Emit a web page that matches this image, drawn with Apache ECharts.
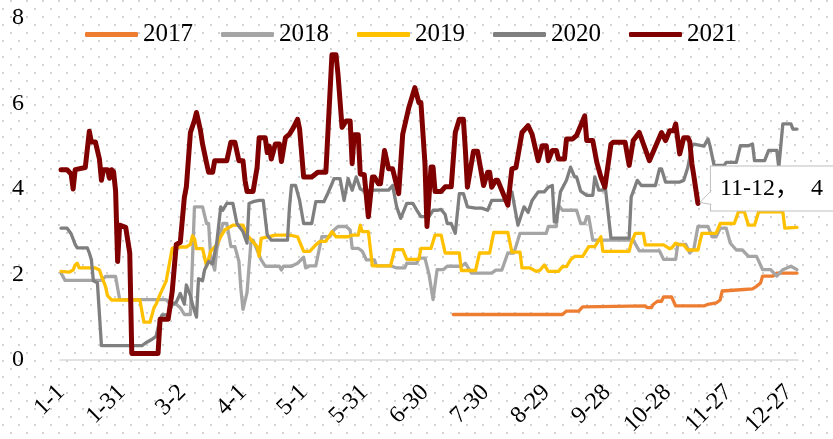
<!DOCTYPE html>
<html>
<head>
<meta charset="utf-8">
<script src="https://cdn.jsdelivr.net/npm/echarts@6/dist/echarts.min.js"></script>
<style>
html,body{margin:0;padding:0;background:#fff;}
#chart{width:833px;height:439px;}
</style>
</head>
<body>
<div id="chart"></div>
<script>
// Categories: every day of a non-leap year, "M-D"
const monthDays = [31,28,31,30,31,30,31,31,30,31,30,31];
const categories = [];
for (let m = 0; m < 12; m++) for (let d = 1; d <= monthDays[m]; d++) categories.push((m + 1) + '-' + d);

const seriesNames = ['2017','2018','2019','2020','2021'];
const yTicks = [0, 2, 4, 6, 8];

// Values as [day-of-year index, value]
const s2017 = [[194,1.06],[248,1.06],[250,1.14],[256,1.14],[258,1.24],[289,1.26],[290,1.22],[292,1.22],[293,1.3],[295,1.37],[297,1.37],[298,1.47],[302,1.47],[304,1.26],[318,1.26],[320,1.3],[324,1.33],[326,1.4],[327,1.61],[336,1.64],[342,1.66],[344,1.72],[346,1.8],[347,1.96],[352,1.96],[354,2.03],[364,2.03]];

const s2018 = [[0,2.03],[2,1.86],[20,1.86],[22,1.95],[27,1.95],[29,1.41],[52,1.41],[54,1.3],[57,1.3],[59,1.22],[61,1.06],[64,1.06],[66,3.58],[70,3.58],[72,3.19],[73,3.19],[74,2.42],[76,2.1],[77,2.57],[80,3.19],[82,3.19],[84,2.65],[86,2.65],[88,2.3],[89,1.64],[90,1.18],[92,1.57],[94,2.8],[95,2.8],[99,2.34],[101,2.19],[108,2.19],[109,2.1],[110,2.19],[114,2.19],[117,2.26],[120,2.4],[121,2.15],[123,2.2],[126,2.2],[129,2.88],[133,2.88],[135,3.04],[137,3.12],[141,3.12],[143,3.04],[144,2.61],[147,2.61],[149,2.54],[151,2.34],[155,2.34],[156,2.2],[163,2.2],[166,2.15],[170,2.15],[171,2.26],[176,2.26],[177,2.38],[180,2.38],[182,2.0],[184,1.41],[186,2.11],[189,2.11],[191,2.19],[198,2.19],[200,2.26],[203,2.03],[213,2.03],[215,2.1],[218,2.1],[221,2.5],[224,2.5],[227,2.96],[240,2.96],[241,3.12],[245,3.12],[246,3.62],[248,3.5],[255,3.5],[257,3.19],[259,3.19],[260,3.35],[261,3.35],[263,2.8],[283,2.8],[286,2.55],[296,2.55],[298,2.35],[304,2.35],[305,2.7],[309,2.7],[311,2.5],[313,2.6],[315,3.12],[320,3.12],[322,2.88],[324,2.88],[326,3.08],[329,3.08],[331,2.73],[334,2.57],[337,2.57],[340,2.42],[344,2.42],[347,2.11],[351,2.11],[354,1.96],[357,2.11],[361,2.19],[364,2.11]];

const s2019 = [[0,2.07],[4,2.05],[6,2.1],[7,2.22],[8,2.26],[9,2.15],[17,2.15],[19,2.1],[20,1.96],[22,1.72],[23,1.5],[25,1.4],[39,1.4],[41,0.88],[44,0.88],[46,1.22],[47,1.3],[49,1.53],[52,1.84],[55,2.61],[57,2.64],[62,2.64],[64,2.7],[65,2.9],[66,2.84],[67,2.6],[70,2.6],[72,2.19],[74,2.54],[77,2.69],[79,2.88],[81,3.04],[85,3.15],[90,3.15],[92,2.92],[97,2.65],[98,2.42],[99,2.84],[106,2.92],[113,2.92],[117,2.88],[120,2.54],[123,2.54],[126,2.69],[128,2.77],[131,2.77],[134,3.0],[136,2.88],[142,2.88],[144,2.92],[147,2.92],[148,3.15],[149,3.0],[152,3.0],[154,2.2],[163,2.2],[165,2.58],[169,2.58],[171,2.35],[177,2.35],[178,2.61],[183,2.61],[185,2.92],[188,2.92],[190,2.5],[197,2.5],[198,2.09],[205,2.09],[207,2.5],[212,2.5],[214,2.98],[221,2.98],[223,2.52],[227,2.52],[228,2.15],[232,2.15],[235,2.07],[237,2.1],[239,2.22],[241,2.07],[246,2.07],[248,2.18],[250,2.18],[252,2.34],[254,2.42],[258,2.42],[261,2.65],[264,2.65],[266,2.8],[267,2.88],[268,2.54],[281,2.54],[282,2.73],[284,2.96],[288,2.96],[289,2.69],[298,2.69],[301,2.6],[302,2.62],[304,2.73],[306,2.69],[308,2.69],[310,2.57],[315,2.57],[317,2.96],[324,2.96],[326,3.19],[333,3.19],[335,3.46],[338,3.46],[340,3.15],[343,3.15],[345,3.46],[357,3.46],[358,3.08],[364,3.1]];

const s2020 = [[0,3.08],[3,3.08],[5,2.95],[7,2.7],[8,2.62],[13,2.62],[14,2.5],[15,2.35],[16,1.85],[18,1.8],[20,0.33],[40,0.33],[42,0.4],[45,0.48],[47,0.55],[49,0.95],[50,1.05],[53,1.05],[55,1.3],[57,1.35],[59,1.55],[61,1.3],[62,1.75],[64,1.5],[65,1.3],[67,1.0],[68,1.9],[70,1.85],[71,2.1],[73,2.3],[75,2.25],[77,2.73],[79,3.58],[80,3.5],[82,3.66],[85,3.66],[87,3.19],[90,3.0],[92,2.73],[93,3.66],[95,3.7],[98,3.73],[100,3.73],[102,2.92],[104,2.8],[112,2.8],[113,3.58],[114,4.08],[116,4.08],[118,3.73],[120,3.19],[124,3.19],[126,3.7],[130,3.7],[132,3.9],[134,4.12],[135,4.24],[138,4.24],[140,3.73],[142,4.24],[144,3.97],[146,4.28],[148,4.0],[150,3.95],[155,3.97],[162,3.97],[164,4.08],[166,3.58],[168,3.31],[171,3.66],[174,3.66],[176,3.5],[178,3.35],[182,3.35],[184,3.5],[186,3.5],[188,3.52],[190,3.4],[191,3.19],[193,3.19],[195,2.96],[197,3.89],[199,3.89],[201,3.58],[205,3.55],[208,3.55],[211,3.5],[213,3.73],[217,3.73],[220,3.73],[223,3.93],[226,3.15],[229,3.58],[231,3.45],[233,3.73],[236,3.93],[239,3.93],[241,4.04],[243,4.08],[244,3.23],[245,3.23],[247,3.93],[250,4.2],[252,4.51],[254,4.28],[255,4.28],[257,3.95],[260,3.85],[263,3.85],[264,4.28],[266,3.97],[268,3.97],[269,4.12],[272,2.85],[281,2.85],[282,3.81],[285,4.2],[287,4.08],[294,4.08],[296,4.47],[297,4.47],[299,4.16],[306,4.16],[308,4.2],[310,4.5],[312,5.0],[313,5.05],[318,5.0],[320,5.17],[321,5.0],[323,4.55],[328,4.55],[329,4.62],[334,4.62],[336,5.01],[340,5.01],[342,5.05],[343,4.66],[348,4.66],[350,4.9],[354,4.9],[355,4.5],[357,5.52],[361,5.52],[362,5.4],[364,5.4]];

const s2021 = [[0,4.45],[3,4.45],[5,4.35],[6,4.0],[7,4.45],[12,4.5],[14,5.35],[15,5.1],[17,5.1],[19,4.7],[20,4.2],[21,4.45],[23,4.45],[24,4.25],[25,4.45],[26,4.4],[27,3.95],[28,2.3],[29,3.15],[32,3.1],[34,2.5],[35,0.15],[48,0.15],[49,0.95],[53,0.95],[55,1.6],[57,2.7],[59,2.75],[61,3.8],[62,4.05],[64,5.32],[66,5.6],[67,5.79],[69,5.36],[70,5.05],[72,4.6],[73,4.39],[75,4.39],[76,4.66],[82,4.66],[84,5.09],[86,5.09],[88,4.66],[90,4.66],[91,4.2],[92,3.94],[95,3.94],[97,4.51],[98,5.2],[101,5.2],[102,4.85],[103,5.0],[104,4.7],[106,5.05],[108,5.05],[109,4.64],[111,5.2],[113,5.28],[115,5.44],[117,5.63],[118,5.4],[120,4.28],[124,4.28],[127,4.39],[131,4.39],[134,7.14],[136,7.14],[137,6.68],[139,5.44],[141,5.59],[143,5.59],[144,4.59],[145,5.27],[147,5.27],[148,4.35],[150,4.33],[152,3.35],[154,4.28],[155,4.28],[157,4.12],[158,4.12],[160,4.9],[162,4.47],[164,4.47],[167,3.89],[169,5.28],[172,5.9],[175,6.37],[177,6.02],[178,6.02],[180,4.59],[181,3.12],[183,4.51],[184,4.51],[185,3.94],[188,3.94],[190,4.05],[193,4.05],[195,5.32],[197,5.63],[199,5.63],[200,4.9],[201,4.04],[204,4.88],[206,4.88],[209,4.08],[211,4.39],[212,4.39],[213,4.04],[215,4.2],[216,4.2],[218,3.97],[221,3.62],[223,4.47],[225,4.5],[228,5.32],[231,5.48],[233,5.28],[236,4.66],[238,5.01],[240,5.01],[241,4.66],[243,4.9],[245,4.9],[246,4.7],[249,4.7],[250,5.17],[253,5.17],[255,5.25],[259,5.71],[260,5.13],[263,5.13],[265,4.62],[267,4.28],[269,4.04],[272,5.05],[273,5.09],[279,5.09],[281,4.55],[283,5.13],[286,5.32],[291,4.66],[297,5.32],[299,5.13],[301,5.36],[303,5.36],[304,5.52],[306,4.82],[308,5.2],[310,5.2],[311,5.1],[312,4.6],[313,4.3],[315,3.66]];

const colors = ['#ED7D31','#A5A5A5','#FFC000','#7F7F7F','#800000'];
const widths = [3.3, 3.3, 3.3, 3.3, 5];
const allData = [s2017, s2018, s2019, s2020, s2021];

// dotted background pattern
(function(){
  const c = document.createElement('canvas');
  c.width = 16; c.height = 16;
  const g = c.getContext('2d');
  g.fillStyle = '#fff'; g.fillRect(0,0,16,16);
  g.fillStyle = '#d2d2d2';
  g.fillRect(10,0,2,2);
  g.fillRect(2,8,2,2);
  document.getElementById('chart').style.backgroundImage = 'url(' + c.toDataURL() + ')';
})();

const FONT = "'Liberation Serif','Times New Roman','Noto Sans CJK SC',serif";
const LABEL_DIST = 13;

const chart = echarts.init(document.getElementById('chart'), null, {renderer: 'canvas'});
const series = seriesNames.map((name, i) => {
  const s = {
    name: name,
    type: 'line',
    data: allData[i],
    symbol: 'none',
    showSymbol: false,
    smooth: false,
    lineStyle: {width: widths[i], color: colors[i], cap: 'round', join: 'round'},
    itemStyle: {color: colors[i]},
    emphasis: {disabled: true},
    animation: false
  };
  if (name === '2021') {
    s.endLabel = {
      show: true,
      formatter: p => categories[p.value[0]] + '，  ' + Math.round(p.value[1]),
      fontFamily: FONT,
      fontSize: 24,
      lineHeight: 24,
      color: '#000',
      backgroundColor: '#fff',
      borderColor: '#bfbfbf',
      borderWidth: 1,
      padding: [10, 10, 10, 9],
      distance: LABEL_DIST,
      offset: [0, -15]
    };
  }
  return s;
});

chart.setOption({
  backgroundColor: 'transparent',
  animation: false,
  color: colors,
  grid: {left: 60, right: 35, top: 18, bottom: 76.5, containLabel: false},
  legend: {
    data: seriesNames,
    left: 80,
    top: 17,
    itemWidth: 53,
    itemHeight: 5,
    itemGap: 28,
    icon: 'roundRect',
    textStyle: {fontFamily: FONT, fontSize: 25, color: '#000'}
  },
  xAxis: {
    type: 'category',
    data: categories,
    boundaryGap: true,
    axisLine: {lineStyle: {color: '#d9d9d9', width: 1.5}},
    axisTick: {show: false},
    splitLine: {show: false},
    axisLabel: {
      interval: 29,
      rotate: 45,
      margin: 29,
      fontFamily: FONT,
      fontSize: 24,
      color: '#000'
    }
  },
  yAxis: {
    type: 'value',
    min: yTicks[0],
    max: yTicks[yTicks.length - 1],
    interval: yTicks[1] - yTicks[0],
    axisLine: {show: false},
    axisTick: {show: false},
    splitLine: {show: false},
    axisLabel: {margin: 36, padding: [8, 0, 0, 0], fontFamily: FONT, fontSize: 24, color: '#000'}
  },
  series: series
});

// callout pointer of the end label, placed from the last 2021 point via the chart's scales
const last = s2021[s2021.length - 1];
const p = chart.convertToPixel({seriesIndex: 4}, last);
const bx = p[0] + LABEL_DIST + 0.5;
chart.setOption({
  graphic: [
    {type: 'polygon', z: 100, silent: true,
     shape: {points: [[p[0] + 2, p[1] - 1], [bx + 1, p[1] - 13], [bx + 1, p[1] + 1]]},
     style: {fill: '#fff', stroke: null}},
    {type: 'polyline', z: 101, silent: true,
     shape: {points: [[bx, p[1] - 13], [p[0] + 2, p[1] - 1], [bx, p[1] + 1]]},
     style: {stroke: '#bfbfbf', lineWidth: 1, fill: null}}
  ]
});
</script>
</body>
</html>
